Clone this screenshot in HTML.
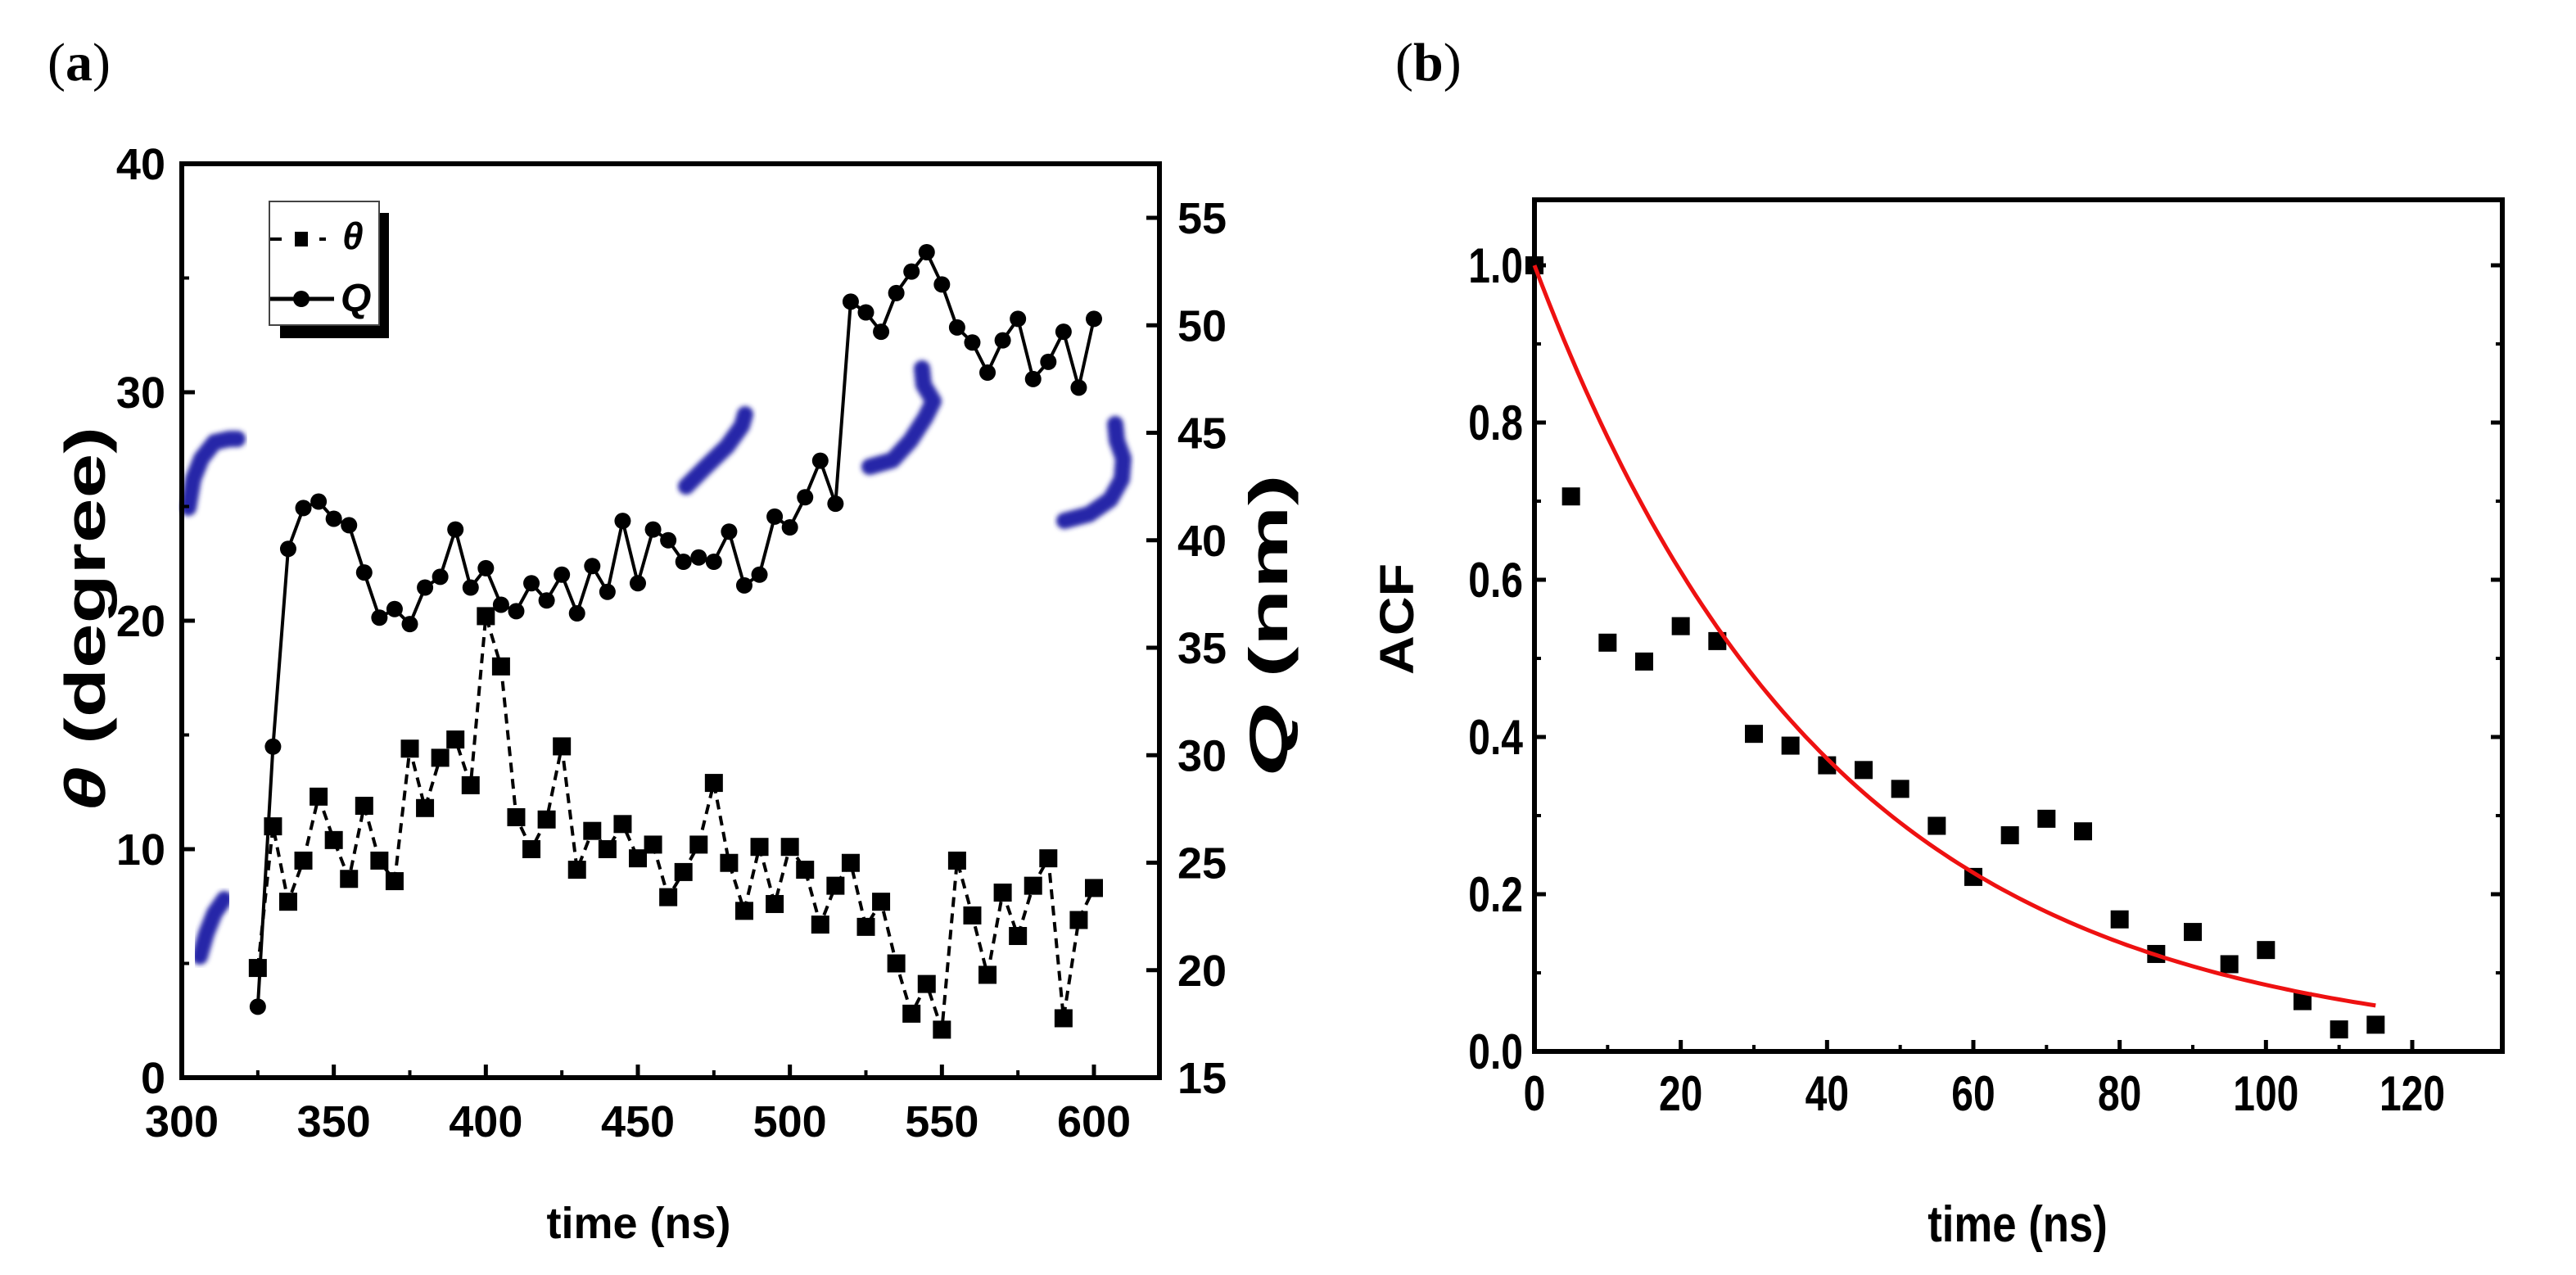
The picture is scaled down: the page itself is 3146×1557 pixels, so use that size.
<!DOCTYPE html>
<html><head><meta charset="utf-8"><style>
html,body{margin:0;padding:0;background:#fff;}
svg{display:block;}
text{font-family:"Liberation Sans",Arial,sans-serif;font-weight:bold;fill:#000;}
</style></head><body>
<svg id="fig" width="3146" height="1557" viewBox="0 0 3146 1557" xmlns="http://www.w3.org/2000/svg">
<defs><filter id="blur" x="-20%" y="-20%" width="140%" height="140%"><feGaussianBlur stdDeviation="3"/></filter></defs>
<text x="58" y="98" style="font-family:'Liberation Serif',serif;font-weight:normal;font-size:66px">(<tspan font-weight="bold">a</tspan>)</text>
<text x="1704" y="98" style="font-family:'Liberation Serif',serif;font-weight:normal;font-size:66px">(<tspan font-weight="bold">b</tspan>)</text>
<g id="chartA"></g>
<g id="chartB"></g>
</svg>
<script>
const timeA=[325,330,335,340,345,350,355,360,365,370,375,380,385,390,395,400,405,410,415,420,425,430,435,440,445,450,455,460,465,470,475,480,485,490,495,500,505,510,515,520,525,530,535,540,545,550,555,560,565,570,575,580,585,590,595,600];
const thetaVals=[4.8,11.0,7.7,9.5,12.3,10.4,8.7,11.9,9.5,8.6,14.4,11.8,14.0,14.8,12.8,20.2,18.0,11.4,10.0,11.3,14.5,9.1,10.8,10.0,11.1,9.6,10.2,7.9,9.0,10.2,12.9,9.4,7.3,10.1,7.6,10.1,9.1,6.7,8.4,9.4,6.6,7.7,5.0,2.8,4.1,2.1,9.5,7.1,4.5,8.1,6.2,8.4,9.6,2.6,6.9,8.3];
const qVals=[18.3,30.4,39.6,41.5,41.8,41.0,40.7,38.5,36.4,36.8,36.1,37.8,38.3,40.5,37.8,38.7,37.0,36.7,38.0,37.2,38.4,36.6,38.8,37.6,40.9,38.0,40.5,40.0,39.0,39.2,39.0,40.4,37.9,38.4,41.1,40.6,42.0,43.7,41.7,51.1,50.6,49.7,51.5,52.5,53.4,51.9,49.9,49.2,47.8,49.3,50.3,47.5,48.3,49.7,47.1,50.3];
const xTicksA=[300,350,400,450,500,550,600];
const yTicksA=[0,10,20,30,40];
const yTicksQ=[15,20,25,30,35,40,45,50,55];
const timeB=[0,5,10,15,20,25,30,35,40,45,50,55,60,65,70,75,80,85,90,95,100,105,110,115];
const acfVals=[1.0,0.706,0.52,0.496,0.541,0.522,0.404,0.389,0.364,0.358,0.334,0.287,0.222,0.275,0.296,0.280,0.168,0.124,0.152,0.111,0.129,0.064,0.028,0.034];
const fitTau=[40.5];
const xTicksB=[0,20,40,60,80,100,120];
const yTicksB=["0.0","0.2","0.4","0.6","0.8","1.0"];

const NS="http://www.w3.org/2000/svg";
function mk(parent,tag,attrs,txt){const e=document.createElementNS(NS,tag);for(const k in attrs)e.setAttribute(k,attrs[k]);if(txt!==undefined)e.textContent=txt;parent.appendChild(e);return e;}

// ---------- Chart A ----------
const A=document.getElementById('chartA');
const aL=222,aR=1416,aT=200,aB=1316;
const xA=v=>aL+(v-300)*(1336-222)/300;
const yA=v=>aB-(v-0)*(aB-aT)/40;
const yQ=v=>aB-(v-15)*(1316-266)/40;
const blobs=[
 "M230,620 L236,585 L246,560 L262,540 L280,536 L290,536",
 "M244,1168 L252,1140 L262,1115 L274,1098",
 "M838,594 L862,570 L888,545 L906,520 L910,506",
 "M1062,570 L1090,562 L1112,538 L1130,510 L1140,490 L1128,470 L1126,450",
 "M1300,636 L1330,628 L1356,610 L1370,585 L1372,560 L1364,538 L1362,518"];
blobs.forEach((d,i)=>{const p=mk(A,'path',{d:d,stroke:'#2626a8',"stroke-width":20,fill:'none',"stroke-linecap":'round',"stroke-linejoin":'round',filter:'url(#blur)'});

});
const fa=mk(A,'rect',{x:aL,y:aT,width:aR-aL,height:aB-aT,fill:'none',stroke:'#000',"stroke-width":6});


xTicksA.forEach(v=>{mk(A,'line',{x1:xA(v),x2:xA(v),y1:aB,y2:aB-16,stroke:'#000',"stroke-width":5});
const t=mk(A,'text',{x:xA(v),y:aB+72,"text-anchor":'middle',"font-size":54},v);

});
for(let v=325;v<620;v+=50){mk(A,'line',{x1:xA(v),x2:xA(v),y1:aB,y2:aB-9,stroke:'#000',"stroke-width":4});}
yTicksA.forEach(v=>{mk(A,'line',{x1:aL,x2:aL+16,y1:yA(v),y2:yA(v),stroke:'#000',"stroke-width":5});
const t=mk(A,'text',{x:aL-20,y:yA(v)+19,"text-anchor":'end',"font-size":54},v);

});
for(let v=5;v<40;v+=10){mk(A,'line',{x1:aL,x2:aL+9,y1:yA(v),y2:yA(v),stroke:'#000',"stroke-width":4});}
yTicksQ.forEach(v=>{mk(A,'line',{x1:aR,x2:aR-16,y1:yQ(v),y2:yQ(v),stroke:'#000',"stroke-width":5});
const t=mk(A,'text',{x:aR+22,y:yQ(v)+19,"text-anchor":'start',"font-size":54},v);

});
const thPts=timeA.map((t,i)=>xA(t)+','+yA(thetaVals[i])).join(' ');
const thl=mk(A,'polyline',{points:thPts,fill:'none',stroke:'#000',"stroke-width":4,"stroke-dasharray":'12,8'});


timeA.forEach((t,i)=>{const r=mk(A,'rect',{x:xA(t)-11,y:yA(thetaVals[i])-11,width:22,height:22,fill:'#000'});

});
const qPts=timeA.map((t,i)=>xA(t)+','+yQ(qVals[i])).join(' ');
const ql=mk(A,'polyline',{points:qPts,fill:'none',stroke:'#000',"stroke-width":4});


timeA.forEach((t,i)=>{const c=mk(A,'circle',{cx:xA(t),cy:yQ(qVals[i]),r:10,fill:'#000'});

});
const lg=mk(A,'g',{});


mk(lg,'rect',{x:342,y:260,width:133,height:153,fill:'#000'});
mk(lg,'rect',{x:329,y:246,width:134,height:151,fill:'#fff',stroke:'#444',"stroke-width":2});
mk(lg,'line',{x1:330,x2:398,y1:292,y2:292,stroke:'#000',"stroke-width":4,"stroke-dasharray":'14,16'});
mk(lg,'rect',{x:360,y:283,width:16,height:18,fill:'#000'});
mk(lg,'line',{x1:330,x2:408,y1:365,y2:365,stroke:'#000',"stroke-width":5});
mk(lg,'circle',{cx:368,cy:365,r:10,fill:'#000'});
const le1=mk(lg,'text',{x:418,y:304,"font-size":46,"font-style":'italic'},'θ');


const le2=mk(lg,'text',{x:416,y:380,"font-size":48,"font-style":'italic'},'Q');


const yt=mk(A,'text',{x:0,y:0,"font-size":70,"text-anchor":'middle',textLength:470,lengthAdjust:'spacingAndGlyphs',transform:'translate(128,756) rotate(-90)'});
yt.innerHTML='<tspan font-style="italic">θ</tspan> (degree)';


const yt2=mk(A,'text',{x:0,y:0,"font-size":66,"text-anchor":'middle',textLength:370,lengthAdjust:'spacingAndGlyphs',transform:'translate(1572,764) rotate(-90)'});
yt2.innerHTML='<tspan font-style="italic">Q</tspan> (nm)';


const xt=mk(A,'text',{x:780,y:1512,"font-size":54,"text-anchor":'middle',fill:'#222'},'time (ns)');



// ---------- Chart B ----------
const B=document.getElementById('chartB');
const bL=1874,bR=3056,bT=244,bB=1284;
const xB=v=>bL+v*(2946-1874)/120;
const yB=v=>bB-v*(bB-324)/1.0;
const fb=mk(B,'rect',{x:bL,y:bT,width:bR-bL,height:bB-bT,fill:'none',stroke:'#000',"stroke-width":6});


xTicksB.forEach(v=>{mk(B,'line',{x1:xB(v),x2:xB(v),y1:bB,y2:bB-14,stroke:'#000',"stroke-width":5});
const t=mk(B,'text',{x:0,y:0,"text-anchor":'middle',"font-size":60,transform:'translate('+xB(v)+','+(bB+72)+') scale(0.8,1)'},v);

});
for(let v=10;v<130;v+=20){mk(B,'line',{x1:xB(v),x2:xB(v),y1:bB,y2:bB-8,stroke:'#000',"stroke-width":4});}
yTicksB.forEach(s=>{const v=parseFloat(s);
mk(B,'line',{x1:bL,x2:bL+14,y1:yB(v),y2:yB(v),stroke:'#000',"stroke-width":5});
mk(B,'line',{x1:bR,x2:bR-14,y1:yB(v),y2:yB(v),stroke:'#000',"stroke-width":5});
const t=mk(B,'text',{x:0,y:0,"text-anchor":'end',"font-size":60,transform:'translate('+(bL-14)+','+(yB(v)+21)+') scale(0.8,1)'},s);

});
for(let v=0.1;v<1.05;v+=0.2){mk(B,'line',{x1:bL,x2:bL+8,y1:yB(v),y2:yB(v),stroke:'#000',"stroke-width":4});mk(B,'line',{x1:bR,x2:bR-8,y1:yB(v),y2:yB(v),stroke:'#000',"stroke-width":4});}
timeB.forEach((t,i)=>{const r=mk(B,'rect',{x:xB(t)-11,y:yB(acfVals[i])-11,width:22,height:22,fill:'#000'});

});
let fd='';
for(let t=0;t<=timeB[timeB.length-1];t+=1){fd+=(t===0?'M':'L')+xB(t).toFixed(1)+','+yB(Math.exp(-t/fitTau[0])).toFixed(1);}
const fit=mk(B,'path',{d:fd,fill:'none',stroke:'#ee1111',"stroke-width":5});


const yb=mk(B,'text',{x:0,y:0,"font-size":58,"text-anchor":'middle',textLength:136,lengthAdjust:'spacingAndGlyphs',transform:'translate(1726,756) rotate(-90)'},'ACF');


const xb=mk(B,'text',{x:0,y:0,"font-size":62,"text-anchor":'middle',transform:'translate(2464,1516) scale(0.85,1)'},'time (ns)');


</script>
</body></html>
